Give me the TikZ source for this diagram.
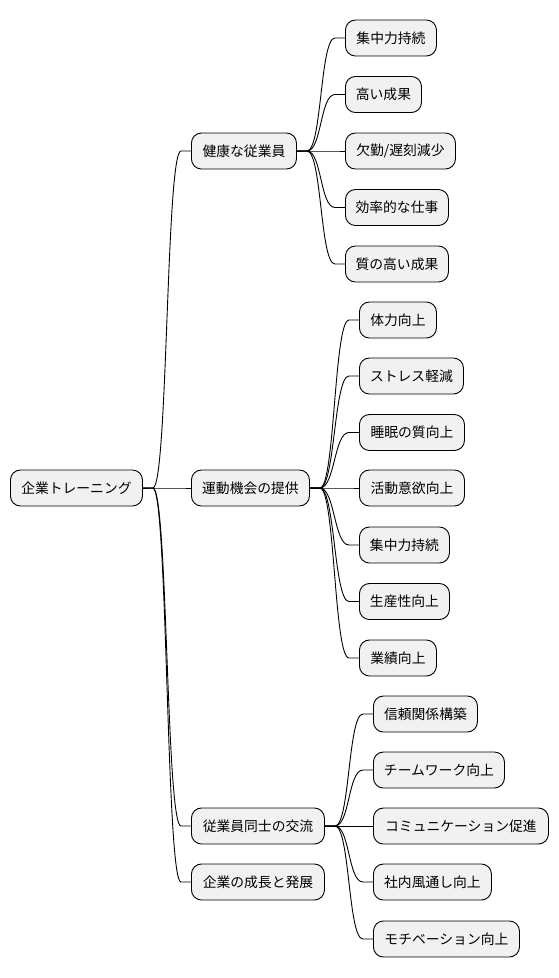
\documentclass[tikz,border=0pt]{standalone}
\usepackage{fontspec}
\setmainfont{Noto Sans CJK JP}
\usetikzlibrary{calc}
\definecolor{boxfill}{HTML}{F1F1F1}
\tikzset{
  mmbox/.style={draw=black, line width=0.9pt, fill=boxfill, rounded corners=10pt,
    minimum height=36pt, inner xsep=0pt, inner ysep=0pt, anchor=west,
    font=\fontsize{13.8}{16}\selectfont, text=black},
  mmline/.style={draw=black, line width=0.9pt}
}
\newcommand{\mmlink}[2]{\draw[mmline] (#1.east) -- ++(10,0) .. controls ($(#1.east)+(25,0)$) and ($(#2.west)+(-25,0)$) .. ($(#2.west)+(-10,0)$) -- (#2.west);}
\begin{document}
\begin{tikzpicture}[x=1pt,y=-1pt]
\useasboundingbox (0,0) rectangle (558,978);
% root
\node[mmbox, minimum width=132pt] (root) at (10,488) {企業トレーニング};
% level 1
\node[mmbox, minimum width=105pt] (a) at (191,151) {健康な従業員};
\node[mmbox, minimum width=118pt] (b) at (191,488) {運動機会の提供};
\node[mmbox, minimum width=133pt] (c) at (191,826) {従業員同士の交流};
\node[mmbox, minimum width=133pt] (d) at (191,882) {企業の成長と発展};
% level 2 under a
\node[mmbox, minimum width=91pt] (a1) at (345,38) {集中力持続};
\node[mmbox, minimum width=76pt] (a2) at (345,94.5) {高い成果};
\node[mmbox, minimum width=110pt] (a3) at (345,151) {欠勤/遅刻減少};
\node[mmbox, minimum width=103pt] (a4) at (345,207.5) {効率的な仕事};
\node[mmbox, minimum width=103pt] (a5) at (345,264) {質の高い成果};
% level 2 under b
\node[mmbox, minimum width=77pt] (b1) at (359,320) {体力向上};
\node[mmbox, minimum width=104pt] (b2) at (359,376) {ストレス軽減};
\node[mmbox, minimum width=105pt] (b3) at (359,432.5) {睡眠の質向上};
\node[mmbox, minimum width=105pt] (b4) at (359,488) {活動意欲向上};
\node[mmbox, minimum width=90pt] (b5) at (359,545) {集中力持続};
\node[mmbox, minimum width=90pt] (b6) at (359,601.5) {生産性向上};
\node[mmbox, minimum width=77pt] (b7) at (359,658) {業績向上};
% level 2 under c
\node[mmbox, minimum width=104pt] (c1) at (373,714) {信頼関係構築};
\node[mmbox, minimum width=131pt] (c2) at (373,770) {チームワーク向上};
\node[mmbox, minimum width=175pt] (c3) at (373,826) {コミュニケーション促進};
\node[mmbox, minimum width=118pt] (c4) at (373,882) {社内風通し向上};
\node[mmbox, minimum width=146pt] (c5) at (373,939) {モチベーション向上};
% links
\mmlink{root}{a}
\mmlink{root}{b}
\mmlink{root}{c}
\mmlink{root}{d}
\mmlink{a}{a1}
\mmlink{a}{a2}
\mmlink{a}{a3}
\mmlink{a}{a4}
\mmlink{a}{a5}
\mmlink{b}{b1}
\mmlink{b}{b2}
\mmlink{b}{b3}
\mmlink{b}{b4}
\mmlink{b}{b5}
\mmlink{b}{b6}
\mmlink{b}{b7}
\mmlink{c}{c1}
\mmlink{c}{c2}
\mmlink{c}{c3}
\mmlink{c}{c4}
\mmlink{c}{c5}
\end{tikzpicture}
\end{document}
